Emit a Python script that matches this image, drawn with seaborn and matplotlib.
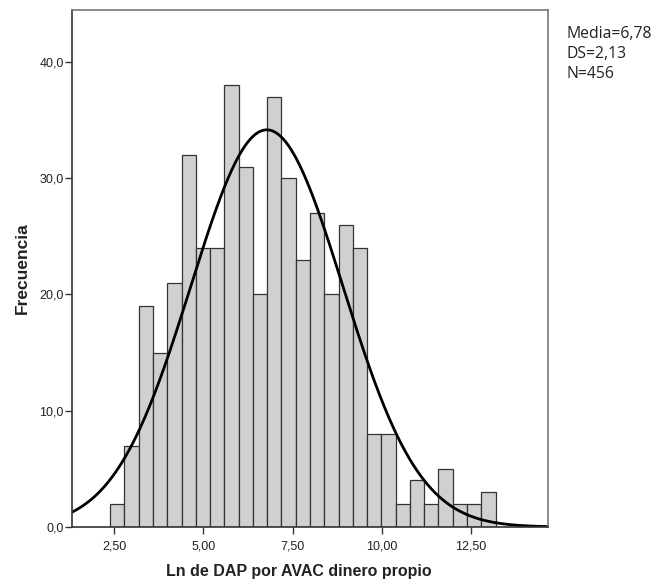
import numpy as np
import pandas as pd
import matplotlib
matplotlib.use("Agg")
import matplotlib.pyplot as plt
import seaborn as sns

# Histogram counts (27 bins of width 0.4 starting at ~2.39)
bin_start = 2.39
bin_width = 0.4
counts = [2, 7, 19, 15, 21, 32, 24, 24, 38, 31, 20, 37, 30, 23, 27, 20, 26, 24,
          8, 8, 2, 4, 2, 5, 2, 2, 3]
mean_val = 6.78
sd_val = 2.13
n_val = 456

x_ticks = [2.5, 5.0, 7.5, 10.0, 12.5]
x_ticklabels = ["2,50", "5,00", "7,50", "10,00", "12,50"]
y_ticks = [0, 10, 20, 30, 40]
y_ticklabels = ["0,0", "10,0", "20,0", "30,0", "40,0"]
stats_lines = ["Media=6,78", "DS=2,13", "N=456"]

edges = [bin_start + bin_width * i for i in range(len(counts) + 1)]
centers = [(edges[i] + edges[i + 1]) / 2 for i in range(len(counts))]
df = pd.DataFrame({"x": centers, "w": counts})

sns.set_theme(style="white")
plt.rcParams["font.family"] = ["Liberation Sans", "DejaVu Sans"]

fig = plt.figure(figsize=(6.58, 5.86), dpi=100)
ax = fig.add_axes([72 / 658, 1 - 527 / 586, (548 - 72) / 658, (527 - 10) / 586])

sns.histplot(data=df, x="x", weights="w", bins=edges, ax=ax,
             color="#d0d0d0", edgecolor="#333333", linewidth=0.9, alpha=1.0)

xmin, xmax = 1.32, 14.66
xs = np.linspace(xmin, xmax, 400)
ys = n_val * bin_width * np.exp(-0.5 * ((xs - mean_val) / sd_val) ** 2) / (sd_val * np.sqrt(2 * np.pi))
sns.lineplot(x=xs, y=ys, ax=ax, color="black", linewidth=2.0)

ax.set_xlim(xmin, xmax)
ax.set_ylim(0, 44.47)
ax.set_xticks(x_ticks)
ax.set_xticklabels(x_ticklabels, fontsize=9, color="#222222")
ax.set_yticks(y_ticks)
ax.set_yticklabels(y_ticklabels, fontsize=9, color="#222222")
ax.tick_params(axis="both", direction="out", length=5, width=1, color="#333333",
               bottom=True, left=True, pad=1)
ax.tick_params(axis="x", pad=5)

for s in ax.spines.values():
    s.set_visible(True)
    s.set_color("#777777")
    s.set_linewidth(1.2)
ax.spines["left"].set_color("#333333")
ax.spines["bottom"].set_color("#333333")

ax.set_xlabel("Ln de DAP por AVAC dinero propio", fontsize=11.5, fontweight="bold",
              color="#222222")
ax.xaxis.set_label_coords((298.5 - 72) / 476, (527 - 564) / 517)
ax.set_ylabel("Frecuencia", fontsize=12.5, fontweight="bold", color="#222222", labelpad=7)

for i, line in enumerate(stats_lines):
    fig.text(567 / 658, 1 - (38 + 20 * i) / 586, line, fontsize=11.3,
             family=["Open Sans", "DejaVu Sans"], color="#222222",
             va="baseline", ha="left")

fig.savefig("out.png", dpi=100)
